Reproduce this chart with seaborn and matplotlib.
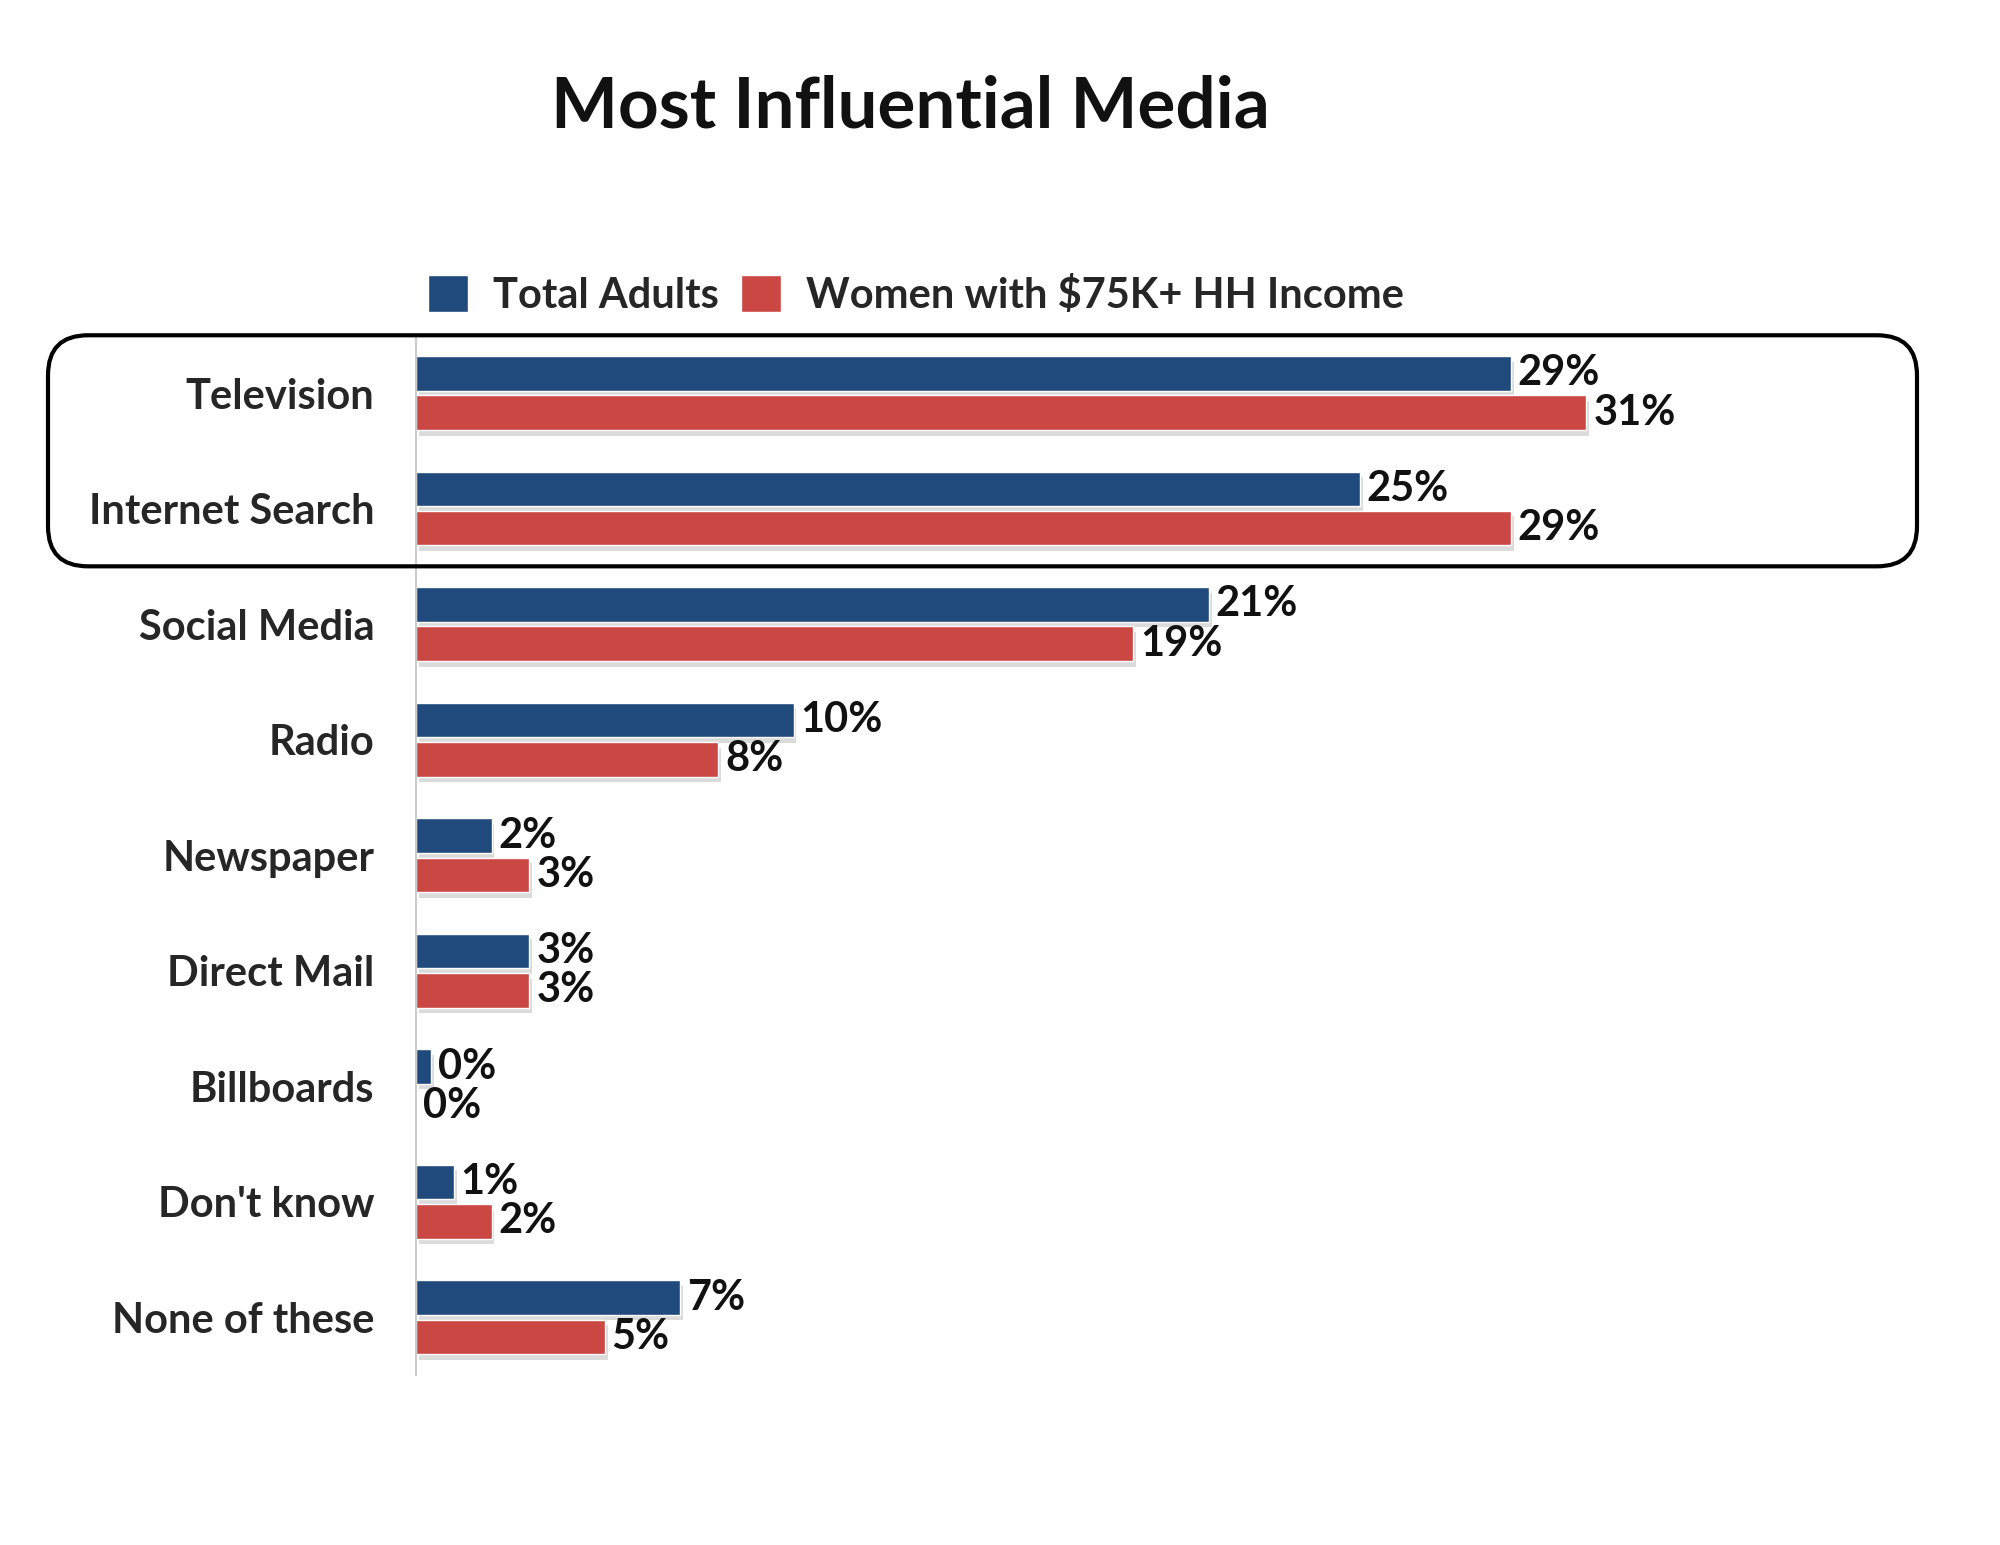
import pandas as pd
import seaborn as sns
import matplotlib.pyplot as plt
import matplotlib.patheffects as pe
from matplotlib.patches import FancyBboxPatch
from matplotlib.transforms import IdentityTransform

media = ["Television", "Internet Search", "Social Media", "Radio", "Newspaper",
         "Direct Mail", "Billboards", "Don't know", "None of these"]
total_adults = [29, 25, 21, 10, 2, 3, 0.4, 1, 7]
women_75k = [31, 29, 19, 8, 3, 3, 0, 2, 5]
groups = ["Total Adults", "Women with $75K+ HH Income"]
colors = ["#214a7c", "#cb4744"]

df = pd.DataFrame({
    "media": media * 2,
    "pct": total_adults + women_75k,
    "group": [groups[0]] * len(media) + [groups[1]] * len(media),
})

sns.set_theme(style="white")
plt.rcParams["font.family"] = ["Lato", "DejaVu Sans"]
plt.rcParams["font.weight"] = "bold"

fig = plt.figure(figsize=(20, 15.45), dpi=100)
ax = fig.add_axes([0.208, 0.110, 0.755, 0.673])

sns.barplot(data=df, y="media", x="pct", hue="group", palette=colors,
            orient="h", width=0.68, gap=0.12, ax=ax, saturation=1)

shadow = [pe.SimplePatchShadow(offset=(2, -4), shadow_rgbFace="#888888", alpha=0.3), pe.Normal()]
for cont in ax.containers:
    for p in cont:
        p.set_path_effects(shadow)
    ax.bar_label(cont, labels=[f"{v:.0f}%" for v in cont.datavalues],
                 padding=5, fontsize=30, fontweight="bold", color="#111111")

ax.set_xlim(0, 40)
ax.set_ylim(8.5, -0.5)
ax.set_xlabel("")
ax.set_ylabel("")
ax.set_xticks([])
ax.tick_params(axis="y", length=0, pad=30, labelsize=30)
for lab in ax.get_yticklabels():
    lab.set_fontweight("bold")
for s in ["top", "right", "bottom"]:
    ax.spines[s].set_visible(False)
ax.spines["left"].set_color("#cccccc")
ax.spines["left"].set_linewidth(1.5)

sns.move_legend(ax, "center", bbox_to_anchor=(0.458, 0.809), bbox_transform=fig.transFigure,
                ncol=2, frameon=False, title=None, fontsize=30, handlelength=0.95,
                handleheight=1.0, handletextpad=0.6, columnspacing=0.55)
for t in ax.get_legend().get_texts():
    t.set_fontweight("bold")

fig.text(0.455, 0.931, "Most Influential Media", ha="center", va="center",
         fontsize=51, fontweight="bold", color="#111111")

# rounded frame around the top two categories
fig.canvas.draw()
y_top = ax.transData.transform((0, -0.5))[1]
y_bot = ax.transData.transform((0, 1.5))[1]
box = FancyBboxPatch((48, y_bot), 1917 - 48, y_top - y_bot,
                     boxstyle="round,pad=0,rounding_size=40", transform=IdentityTransform(),
                     fill=False, edgecolor="black", linewidth=3, clip_on=False)
fig.patches.append(box)

fig.savefig("out.png", dpi=100, facecolor="white")
